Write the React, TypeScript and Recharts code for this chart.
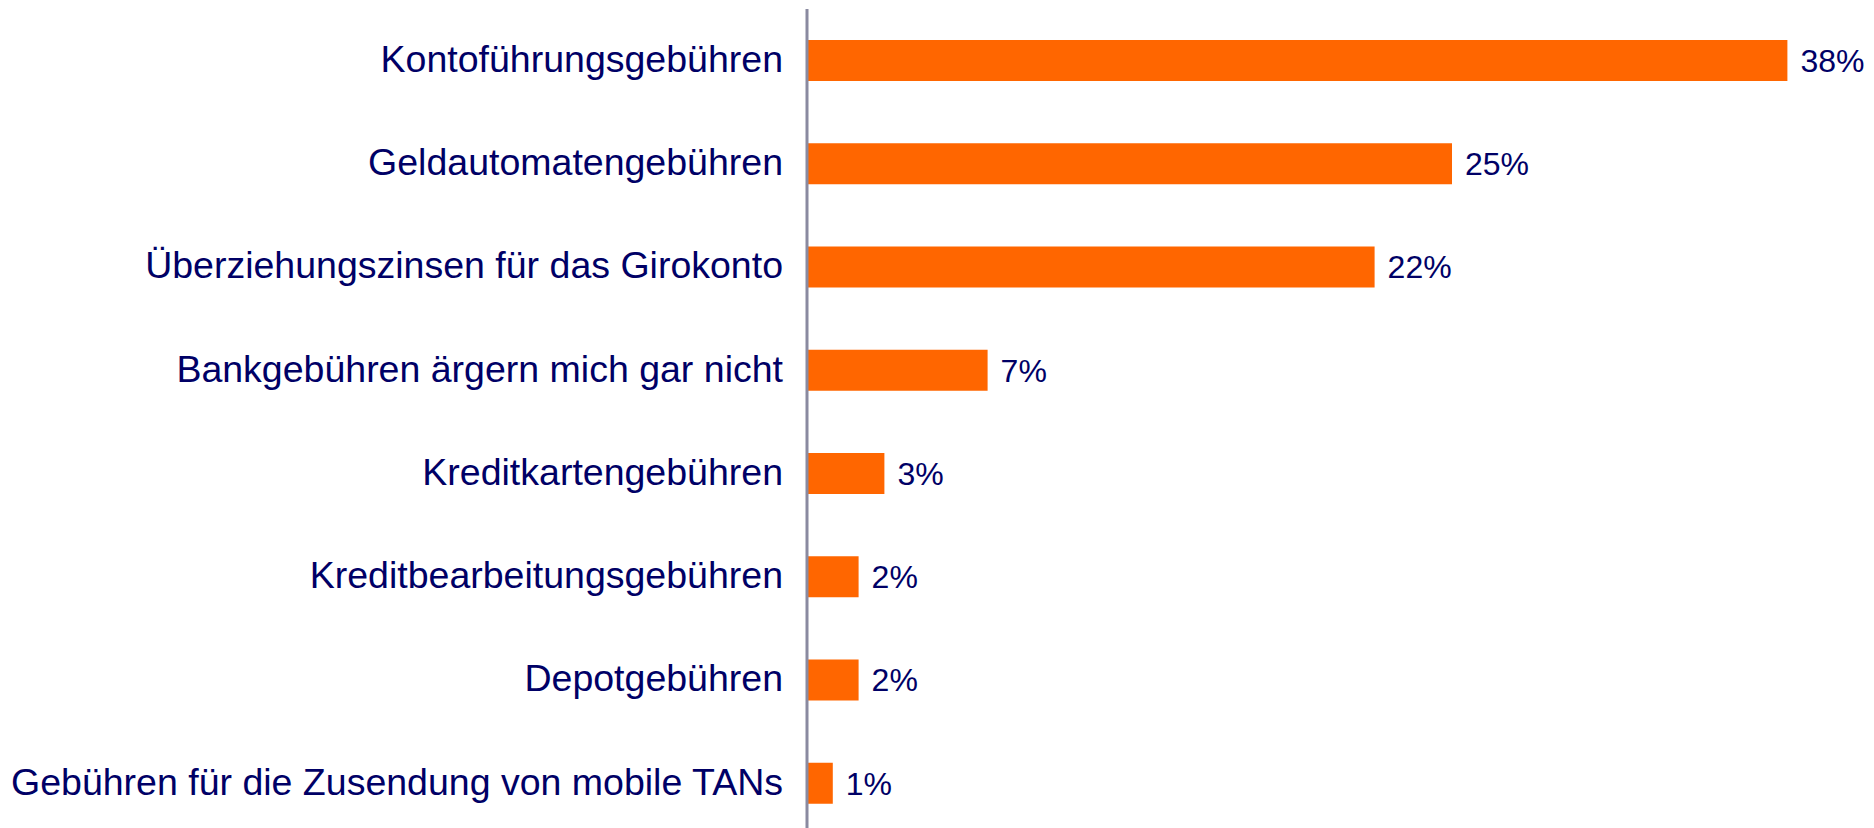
import React from 'react';
import { BarChart, Bar, XAxis, YAxis, LabelList } from 'recharts';

const categories = [
  'Kontoführungsgebühren',
  'Geldautomatengebühren',
  'Überziehungszinsen für das Girokonto',
  'Bankgebühren ärgern mich gar nicht',
  'Kreditkartengebühren',
  'Kreditbearbeitungsgebühren',
  'Depotgebühren',
  'Gebühren für die Zusendung von mobile TANs',
];
const values = [38, 25, 22, 7, 3, 2, 2, 1];

const data = categories.map((name, i) => ({ name, value: values[i] }));

const TEXT = '#000066';
const FONT = '"Liberation Sans", Arial, sans-serif';

const CategoryTick = (props: any) => {
  const { x, y, payload } = props;
  return (
    <text
      x={x}
      y={y - 2}
      dy="0.355em"
      textAnchor="end"
      fill={TEXT}
      fontSize={37.5}
      fontFamily={FONT}
    >
      {payload.value}
    </text>
  );
};

export default function App() {
  return (
    <div>
      <style>{'body{overflow:hidden}'}</style>
      <BarChart
        layout="vertical"
        width={1866}
        height={840}
        data={data}
        margin={{ top: 1, right: 35, bottom: 13, left: 0 }}
      >
        <XAxis type="number" domain={[0, 40]} hide />
        <YAxis
          type="category"
          dataKey="name"
          width={799}
          interval={0}
          axisLine={{ stroke: '#8a8aa0', strokeWidth: 3 }}
          tickLine={false}
          tickSize={0}
          tickMargin={24}
          tick={<CategoryTick />}
        />
        <Bar dataKey="value" fill="#FF6600" barSize={41} isAnimationActive={false}>
          <LabelList
            dataKey="value"
            position="right"
            offset={13}
            formatter={(v: any) => `${v}%`}
            fill={TEXT}
            fontSize={32}
            fontFamily={FONT}
          />
        </Bar>
      </BarChart>
    </div>
  );
}
